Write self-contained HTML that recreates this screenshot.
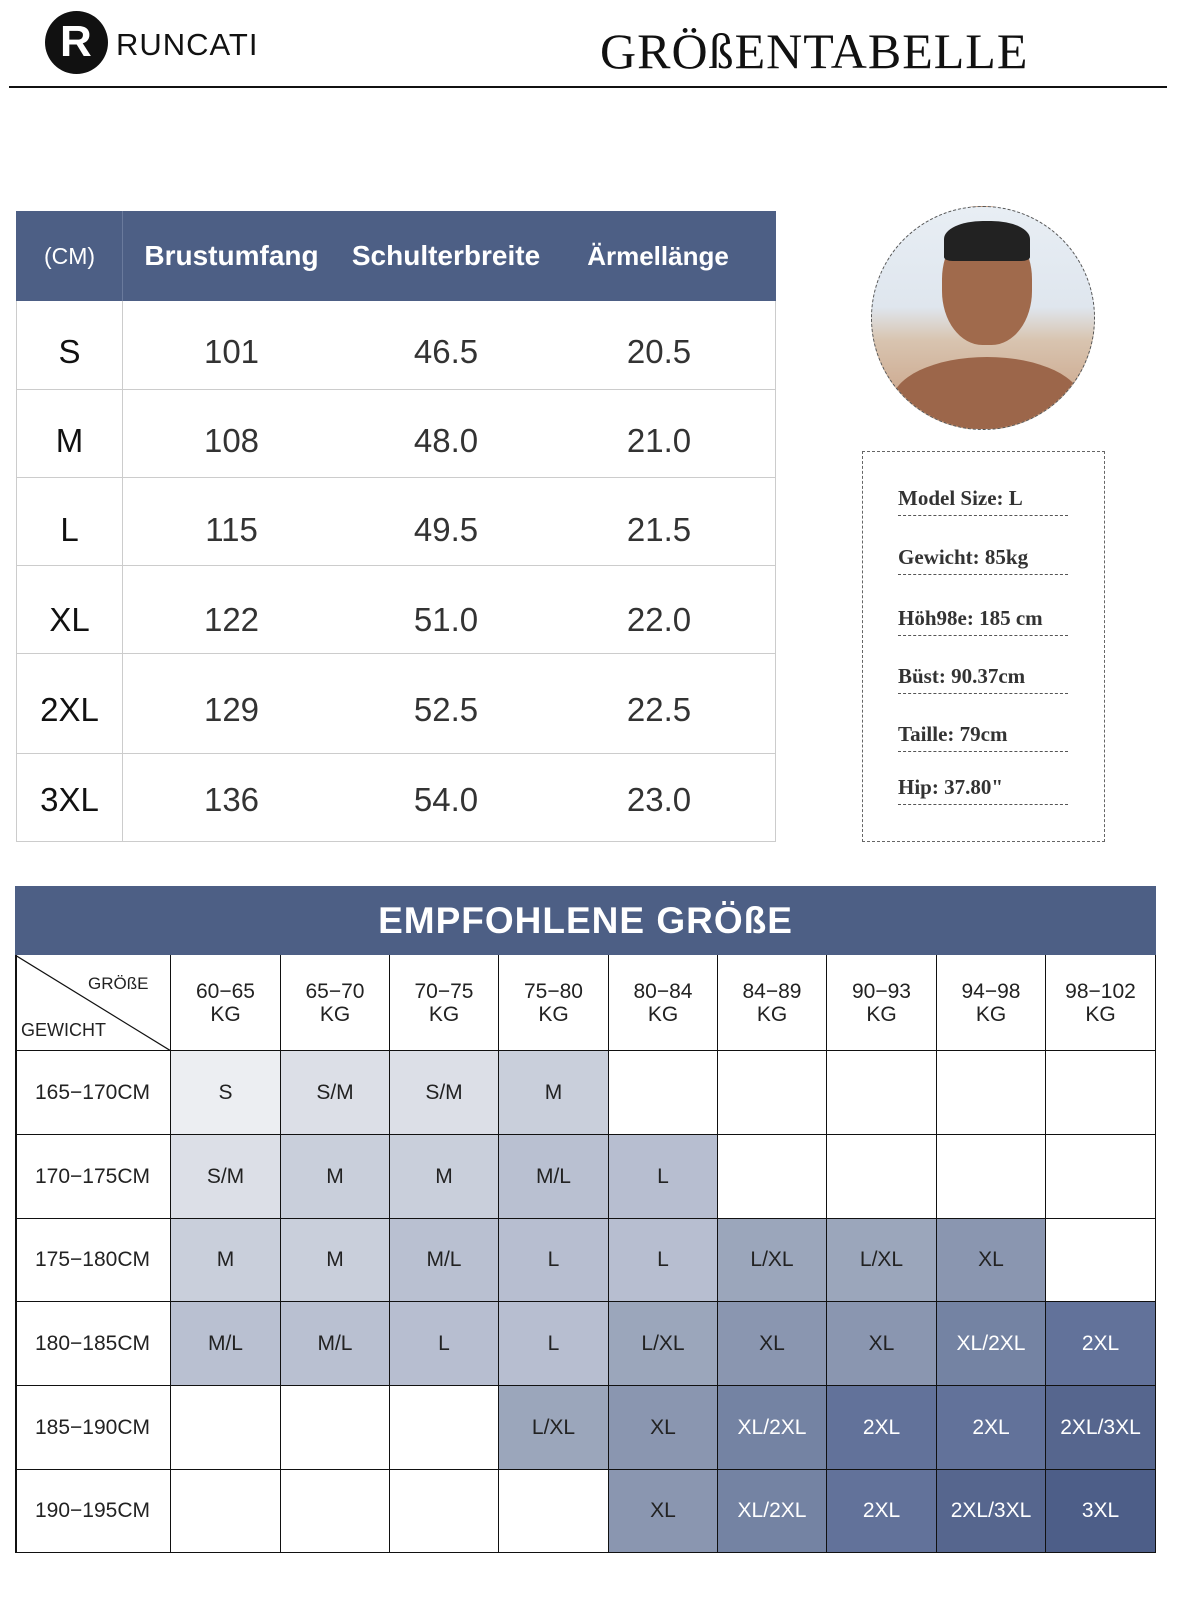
<!DOCTYPE html>
<html><head><meta charset="utf-8"><style>
*{margin:0;padding:0;box-sizing:border-box}
body{width:1200px;height:1600px;background:#fff;position:relative;font-family:"Liberation Sans",sans-serif;overflow:hidden}
.a{position:absolute}
.c{position:absolute;display:flex;align-items:center;justify-content:center;text-align:center}
.t1 .c{font-size:33px;color:#333}
.g .c{font-size:21px;color:#222;border-right:1.5px solid #111;border-bottom:1.5px solid #111}
.w{color:#fff!important}
.ms{font-family:"Liberation Serif",serif;font-weight:bold;font-size:21px;color:#333;position:absolute;left:898px;width:170px;border-bottom:1.5px dashed #555;padding-bottom:4px}
</style></head><body>
<!-- header -->
<div class="a" style="left:45px;top:11px;width:63px;height:63px;border-radius:50%;background:#111"></div>
<div class="a" style="left:60px;top:20px;color:#fff;font-size:44px;font-weight:bold;line-height:44px">R</div>
<div class="a" style="left:116px;top:27px;font-size:31px;letter-spacing:1px;color:#111">RUNCATI</div>
<div class="a" style="left:600px;top:22px;font-family:'Liberation Serif',serif;font-size:50px;letter-spacing:1px;color:#111">GRÖßENTABELLE</div>
<div class="a" style="left:9px;top:86px;width:1158px;height:2px;background:#111"></div>

<!-- table 1 -->
<div class="t1">
<div class="a" style="left:16px;top:211px;width:760px;height:90px;background:#4d5f85"></div>
<div class="a" style="left:122px;top:211px;width:1px;height:90px;background:#6a7a9c"></div>
<div class="c" style="left:16px;top:211px;width:107px;height:90px;color:#fff;font-size:23px">(CM)</div>
<div class="c" style="left:123px;top:211px;width:217px;height:90px;color:#fff;font-size:28px;font-weight:bold">Brustumfang</div>
<div class="c" style="left:340px;top:211px;width:212px;height:90px;color:#fff;font-size:28px;font-weight:bold">Schulterbreite</div>
<div class="c" style="left:552px;top:211px;width:212px;height:90px;color:#fff;font-size:26px;font-weight:bold">Ärmellänge</div>
<div class="a" style="left:16px;top:301px;width:760px;height:541px;border:1px solid #ccc;border-top:none"></div>
<div class="a" style="left:122px;top:301px;width:1px;height:541px;background:#ccc"></div>
<div class="a" style="left:16px;top:389px;width:760px;height:1px;background:#ccc"></div>
<div class="a" style="left:16px;top:477px;width:760px;height:1px;background:#ccc"></div>
<div class="a" style="left:16px;top:565px;width:760px;height:1px;background:#ccc"></div>
<div class="a" style="left:16px;top:653px;width:760px;height:1px;background:#ccc"></div>
<div class="a" style="left:16px;top:753px;width:760px;height:1px;background:#ccc"></div>

<div class="c" style="left:16px;top:308px;width:107px;height:88px;color:#111">S</div><div class="c" style="left:123px;top:308px;width:217px;height:88px">101</div><div class="c" style="left:340px;top:308px;width:212px;height:88px">46.5</div><div class="c" style="left:552px;top:308px;width:214px;height:88px">20.5</div>
<div class="c" style="left:16px;top:397px;width:107px;height:88px;color:#111">M</div><div class="c" style="left:123px;top:397px;width:217px;height:88px">108</div><div class="c" style="left:340px;top:397px;width:212px;height:88px">48.0</div><div class="c" style="left:552px;top:397px;width:214px;height:88px">21.0</div>
<div class="c" style="left:16px;top:486px;width:107px;height:88px;color:#111">L</div><div class="c" style="left:123px;top:486px;width:217px;height:88px">115</div><div class="c" style="left:340px;top:486px;width:212px;height:88px">49.5</div><div class="c" style="left:552px;top:486px;width:214px;height:88px">21.5</div>
<div class="c" style="left:16px;top:576px;width:107px;height:88px;color:#111">XL</div><div class="c" style="left:123px;top:576px;width:217px;height:88px">122</div><div class="c" style="left:340px;top:576px;width:212px;height:88px">51.0</div><div class="c" style="left:552px;top:576px;width:214px;height:88px">22.0</div>
<div class="c" style="left:16px;top:666px;width:107px;height:88px;color:#111">2XL</div><div class="c" style="left:123px;top:666px;width:217px;height:88px">129</div><div class="c" style="left:340px;top:666px;width:212px;height:88px">52.5</div><div class="c" style="left:552px;top:666px;width:214px;height:88px">22.5</div>
<div class="c" style="left:16px;top:756px;width:107px;height:88px;color:#111">3XL</div><div class="c" style="left:123px;top:756px;width:217px;height:88px">136</div><div class="c" style="left:340px;top:756px;width:212px;height:88px">54.0</div><div class="c" style="left:552px;top:756px;width:214px;height:88px">23.0</div>
</div>

<!-- photo -->
<div class="a" style="left:871px;top:206px;width:224px;height:224px;border-radius:50%;border:1.5px dashed #555;overflow:hidden;background:linear-gradient(#e8eef4 0%,#dfe6ee 45%,#d8c4b0 60%,#c79a7c 100%)">
<div class="a" style="left:70px;top:18px;width:90px;height:120px;border-radius:45%;background:#a06a4c"></div>
<div class="a" style="left:72px;top:14px;width:86px;height:40px;border-radius:45% 45% 10% 10%;background:#222"></div>
<div class="a" style="left:20px;top:150px;width:190px;height:90px;border-radius:50% 50% 0 0;background:#9c664a"></div>
</div>

<!-- model box -->
<div class="a" style="left:862px;top:451px;width:243px;height:391px;border:1.5px dashed #666"></div>
<div class="ms" style="top:486px">Model Size: L</div>
<div class="ms" style="top:545px">Gewicht: 85kg</div>
<div class="ms" style="top:606px">Höh98e: 185 cm</div>
<div class="ms" style="top:664px">Büst: 90.37cm</div>
<div class="ms" style="top:722px">Taille: 79cm</div>
<div class="ms" style="top:775px">Hip: 37.80"</div>

<!-- table 2 -->
<div class="a" style="left:15px;top:886px;width:1141px;height:69px;background:#4d5f85"></div>
<div class="c" style="left:15px;top:886px;width:1141px;height:69px;color:#fff;font-size:37px;font-weight:bold;letter-spacing:1px">EMPFOHLENE GRÖßE</div>
<div class="g">
<div class="a" style="left:15px;top:955px;width:1.5px;height:598px;background:#111"></div>
<svg class="a" style="left:15px;top:955px" width="156" height="96"><line x1="0" y1="0" x2="156" y2="96" stroke="#111" stroke-width="1.2"/></svg>
<div class="a" style="left:88px;top:974px;font-size:17px;color:#222">GRÖßE</div>
<div class="a" style="left:21px;top:1020px;font-size:18px;color:#222">GEWICHT</div>
<div class="c" style="left:15px;top:955px;width:156px;height:96px;border-left:none"></div>
<div class="c" style="left:171px;top:955px;width:110px;height:96px;line-height:23px">60−65<br>KG</div>
<div class="c" style="left:281px;top:955px;width:109px;height:96px;line-height:23px">65−70<br>KG</div>
<div class="c" style="left:390px;top:955px;width:109px;height:96px;line-height:23px">70−75<br>KG</div>
<div class="c" style="left:499px;top:955px;width:110px;height:96px;line-height:23px">75−80<br>KG</div>
<div class="c" style="left:609px;top:955px;width:109px;height:96px;line-height:23px">80−84<br>KG</div>
<div class="c" style="left:718px;top:955px;width:109px;height:96px;line-height:23px">84−89<br>KG</div>
<div class="c" style="left:827px;top:955px;width:110px;height:96px;line-height:23px">90−93<br>KG</div>
<div class="c" style="left:937px;top:955px;width:109px;height:96px;line-height:23px">94−98<br>KG</div>
<div class="c" style="left:1046px;top:955px;width:110px;height:96px;line-height:23px">98−102<br>KG</div>

<!-- row1 -->
<div class="c" style="left:15px;top:1051px;width:156px;height:84px">165−170CM</div>
<div class="c" style="left:171px;top:1051px;width:110px;height:84px;background:#eceef2">S</div>
<div class="c" style="left:281px;top:1051px;width:109px;height:84px;background:#dcdfe7">S/M</div>
<div class="c" style="left:390px;top:1051px;width:109px;height:84px;background:#dcdfe7">S/M</div>
<div class="c" style="left:499px;top:1051px;width:110px;height:84px;background:#c9cfdb">M</div>
<div class="c" style="left:609px;top:1051px;width:109px;height:84px"></div>
<div class="c" style="left:718px;top:1051px;width:109px;height:84px"></div>
<div class="c" style="left:827px;top:1051px;width:110px;height:84px"></div>
<div class="c" style="left:937px;top:1051px;width:109px;height:84px"></div>
<div class="c" style="left:1046px;top:1051px;width:110px;height:84px"></div>
<!-- row2 -->
<div class="c" style="left:15px;top:1135px;width:156px;height:84px">170−175CM</div>
<div class="c" style="left:171px;top:1135px;width:110px;height:84px;background:#dcdfe7">S/M</div>
<div class="c" style="left:281px;top:1135px;width:109px;height:84px;background:#c9cfdb">M</div>
<div class="c" style="left:390px;top:1135px;width:109px;height:84px;background:#c9cfdb">M</div>
<div class="c" style="left:499px;top:1135px;width:110px;height:84px;background:#b9c0d1">M/L</div>
<div class="c" style="left:609px;top:1135px;width:109px;height:84px;background:#b7bed0">L</div>
<div class="c" style="left:718px;top:1135px;width:109px;height:84px"></div>
<div class="c" style="left:827px;top:1135px;width:110px;height:84px"></div>
<div class="c" style="left:937px;top:1135px;width:109px;height:84px"></div>
<div class="c" style="left:1046px;top:1135px;width:110px;height:84px"></div>
<!-- row3 -->
<div class="c" style="left:15px;top:1219px;width:156px;height:83px">175−180CM</div>
<div class="c" style="left:171px;top:1219px;width:110px;height:83px;background:#c9cfdb">M</div>
<div class="c" style="left:281px;top:1219px;width:109px;height:83px;background:#c9cfdb">M</div>
<div class="c" style="left:390px;top:1219px;width:109px;height:83px;background:#b9c0d1">M/L</div>
<div class="c" style="left:499px;top:1219px;width:110px;height:83px;background:#b7bed0">L</div>
<div class="c" style="left:609px;top:1219px;width:109px;height:83px;background:#b7bed0">L</div>
<div class="c" style="left:718px;top:1219px;width:109px;height:83px;background:#9ba6bb">L/XL</div>
<div class="c" style="left:827px;top:1219px;width:110px;height:83px;background:#9ba6bb">L/XL</div>
<div class="c" style="left:937px;top:1219px;width:109px;height:83px;background:#8a96b0">XL</div>
<div class="c" style="left:1046px;top:1219px;width:110px;height:83px"></div>
<!-- row4 -->
<div class="c" style="left:15px;top:1302px;width:156px;height:84px">180−185CM</div>
<div class="c" style="left:171px;top:1302px;width:110px;height:84px;background:#b9c0d1">M/L</div>
<div class="c" style="left:281px;top:1302px;width:109px;height:84px;background:#b9c0d1">M/L</div>
<div class="c" style="left:390px;top:1302px;width:109px;height:84px;background:#b7bed0">L</div>
<div class="c" style="left:499px;top:1302px;width:110px;height:84px;background:#b7bed0">L</div>
<div class="c" style="left:609px;top:1302px;width:109px;height:84px;background:#9ba6bb">L/XL</div>
<div class="c" style="left:718px;top:1302px;width:109px;height:84px;background:#8a96b0">XL</div>
<div class="c" style="left:827px;top:1302px;width:110px;height:84px;background:#8a96b0">XL</div>
<div class="c w" style="left:937px;top:1302px;width:109px;height:84px;background:#7483a3">XL/2XL</div>
<div class="c w" style="left:1046px;top:1302px;width:110px;height:84px;background:#62729a">2XL</div>
<!-- row5 -->
<div class="c" style="left:15px;top:1386px;width:156px;height:84px">185−190CM</div>
<div class="c" style="left:171px;top:1386px;width:110px;height:84px"></div>
<div class="c" style="left:281px;top:1386px;width:109px;height:84px"></div>
<div class="c" style="left:390px;top:1386px;width:109px;height:84px"></div>
<div class="c" style="left:499px;top:1386px;width:110px;height:84px;background:#9ba6bb">L/XL</div>
<div class="c" style="left:609px;top:1386px;width:109px;height:84px;background:#8a96b0">XL</div>
<div class="c w" style="left:718px;top:1386px;width:109px;height:84px;background:#7483a3">XL/2XL</div>
<div class="c w" style="left:827px;top:1386px;width:110px;height:84px;background:#62729a">2XL</div>
<div class="c w" style="left:937px;top:1386px;width:109px;height:84px;background:#62729a">2XL</div>
<div class="c w" style="left:1046px;top:1386px;width:110px;height:84px;background:#56668e">2XL/3XL</div>
<!-- row6 -->
<div class="c" style="left:15px;top:1470px;width:156px;height:83px">190−195CM</div>
<div class="c" style="left:171px;top:1470px;width:110px;height:83px"></div>
<div class="c" style="left:281px;top:1470px;width:109px;height:83px"></div>
<div class="c" style="left:390px;top:1470px;width:109px;height:83px"></div>
<div class="c" style="left:499px;top:1470px;width:110px;height:83px"></div>
<div class="c" style="left:609px;top:1470px;width:109px;height:83px;background:#8a96b0">XL</div>
<div class="c w" style="left:718px;top:1470px;width:109px;height:83px;background:#7483a3">XL/2XL</div>
<div class="c w" style="left:827px;top:1470px;width:110px;height:83px;background:#62729a">2XL</div>
<div class="c w" style="left:937px;top:1470px;width:109px;height:83px;background:#56668e">2XL/3XL</div>
<div class="c w" style="left:1046px;top:1470px;width:110px;height:83px;background:#4d5e88">3XL</div>
</div>
</body></html>
